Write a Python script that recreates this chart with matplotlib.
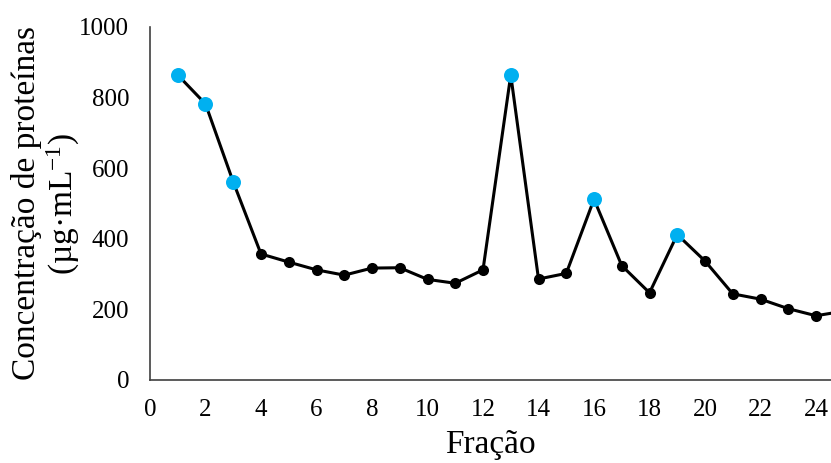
import matplotlib
matplotlib.use('Agg')
import matplotlib.pyplot as plt

# concentração de proteínas por fração
fracao = [1, 2, 3, 4, 5, 6, 7, 8, 9, 10, 11, 12, 13,
          14, 15, 16, 17, 18, 19, 20, 21, 22, 23, 24, 25]
concentracao = [864, 782, 561, 357, 334, 312, 297, 317, 318, 285, 274, 312, 864,
                286, 302, 512, 324, 247, 412, 337, 244, 229, 202, 182, 195]
# frações destacadas (picos)
destaque = [1, 2, 3, 13, 16, 19]

x_ticks = list(range(0, 25, 2))
y_ticks = [0, 200, 400, 600, 800, 1000]

plt.rcParams['font.family'] = ['Liberation Serif', 'DejaVu Serif']
plt.rcParams['mathtext.fontset'] = 'custom'
plt.rcParams['mathtext.rm'] = 'Liberation Serif'

fig = plt.figure(figsize=(8.31, 4.63), dpi=100)
ax = fig.add_axes([0.1805, 0.1793, 0.8195, 0.7624])

ax.plot(fracao, concentracao, color='black', lw=2.2, marker='o',
        markersize=8, markerfacecolor='black', markeredgewidth=0, zorder=2)

dx = [f for f in fracao if f in destaque]
dy = [c for f, c in zip(fracao, concentracao) if f in destaque]
ax.plot(dx, dy, ls='none', marker='o', markersize=10.8,
        markerfacecolor='#00B0F0', markeredgewidth=0, zorder=3)

ax.set_xlim(0, 24.54)
ax.set_ylim(0, 1000)
ax.set_xticks(x_ticks)
ax.set_yticks(y_ticks)
ax.tick_params(axis='both', length=0, labelsize=18)
ax.tick_params(axis='y', pad=15)
ax.tick_params(axis='x', pad=14)

for s in ['top', 'right']:
    ax.spines[s].set_visible(False)
for s in ['left', 'bottom']:
    ax.spines[s].set_color('#404040')
    ax.spines[s].set_linewidth(1.2)

ax.set_xlabel('Fração', fontsize=24, labelpad=6)
ax.set_ylabel('Concentração de proteínas\n(µg·mL$\\mathregular{^{-1}}$)',
              fontsize=24, labelpad=-2, linespacing=1.1)

fig.savefig('out.png', dpi=100)
